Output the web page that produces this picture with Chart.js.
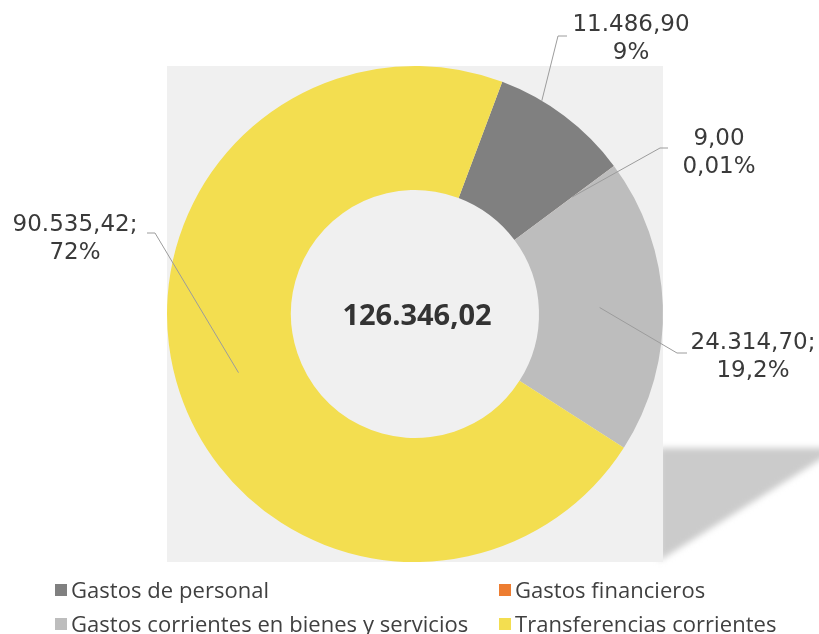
<!DOCTYPE html>
<html>
<head>
<meta charset="utf-8">
<script src="https://cdn.jsdelivr.net/npm/chart.js@4.4.1/dist/chart.umd.min.js"></script>
<style>
  html, body { margin: 0; padding: 0; background: #fff; }
  #wrap { position: relative; width: 819px; height: 634px; }
  #chart { position: absolute; left: 0; top: 0; }
  #legend {
    position: absolute; left: 55px; top: 573px;
    display: grid; grid-template-columns: 444px 300px; row-gap: 3px;
    font-family: "Open Sans", sans-serif; font-size: 22px; color: #404040;
  }
  #legend .item { display: flex; align-items: center; height: 31px; white-space: nowrap; letter-spacing: 0.05px; }
  #legend .box { width: 12px; height: 12px; margin-right: 4px; margin-top: 2px; }
</style>
</head>
<body>
<div id="wrap">
  <canvas id="chart" width="819" height="634"></canvas>
  <div id="legend"></div>
</div>
<script>
// --- data ---
const categories = [
  'Gastos de personal',
  'Gastos financieros',
  'Gastos corrientes en bienes y servicios',
  'Transferencias corrientes'
];
const values = [11486.90, 9.00, 24314.70, 90535.42];
const pctLabels = ['9%', '0,01%', '19,2%', '72%'];
const labelSeparators = ['', '', ';', ';'];
const colors = ['#808080', '#ed7d31', '#bdbdbd', '#f3de50'];

// --- label layout (relative to doughnut centre) ---
// t / s: where the leader starts inside the slice (angle fraction, ring fraction)
const labelLayout = [
  { t: 0.31, s: 1.0, elbow: [143, -278], end: [152, -278], text: [216, -283] },
  { t: 0.5,  s: 0.58, elbow: [245, -166], end: [253, -166], text: [304, -169] },
  { t: 0.5,  s: 0.49, elbow: [262, 39],  end: [272, 39],  text: [338, 35] },
  { t: 0.5,  s: 0.5,  elbow: [-260, -81], end: [-268, -81], text: [-340, -83] }
];

function fmtEs(n) {
  const parts = n.toFixed(2).split('.');
  parts[0] = parts[0].replace(/\B(?=(\d{3})+(?!\d))/g, '.');
  return parts.join(',');
}

const total = values.reduce((a, b) => a + b, 0);

// grey plot square + shadow behind the ring
const backdrop = {
  id: 'backdrop',
  beforeDatasetsDraw(chart) {
    const arc = chart.getDatasetMeta(0).data[0];
    if (!arc) return;
    const { x, y, outerRadius: r } = arc.getProps(['x', 'y', 'outerRadius'], true);
    const ctx = chart.ctx;
    const right = x + r, bottom = y + r;
    ctx.save();
    ctx.filter = 'blur(3px)';
    ctx.fillStyle = '#cbcbcb';
    ctx.beginPath();
    ctx.moveTo(right - 4, y + 134);
    ctx.lineTo(chart.width + 10, y + 134);
    ctx.lineTo(chart.width + 10, y + 140);
    ctx.lineTo(right - 4, bottom - 1);
    ctx.closePath();
    ctx.fill();
    ctx.restore();
    ctx.save();
    ctx.fillStyle = '#f0f0f0';
    ctx.fillRect(x - r, y - r, 2 * r, 2 * r);
    ctx.restore();
  }
};

const sliceLabels = {
  id: 'sliceLabels',
  afterDatasetsDraw(chart) {
    const ctx = chart.ctx;
    const arcs = chart.getDatasetMeta(0).data;
    ctx.save();
    arcs.forEach((arc, i) => {
      const p = arc.getProps(['x', 'y', 'startAngle', 'endAngle', 'innerRadius', 'outerRadius'], true);
      const L = labelLayout[i];
      const a = p.startAngle + L.t * (p.endAngle - p.startAngle);
      const rr = p.innerRadius + L.s * (p.outerRadius - p.innerRadius);
      const sx = p.x + Math.cos(a) * rr, sy = p.y + Math.sin(a) * rr;
      ctx.strokeStyle = '#9c9c9c';
      ctx.lineWidth = 1;
      ctx.beginPath();
      ctx.moveTo(sx, sy);
      ctx.lineTo(p.x + L.elbow[0], p.y + L.elbow[1]);
      ctx.lineTo(p.x + L.end[0], p.y + L.end[1]);
      ctx.stroke();

      ctx.fillStyle = '#3a3a3a';
      ctx.font = '23px "DejaVu Sans", Verdana, sans-serif';
      ctx.textAlign = 'center';
      ctx.textBaseline = 'alphabetic';
      const tx = p.x + L.text[0], ty = p.y + L.text[1];
      ctx.fillText(fmtEs(values[i]) + labelSeparators[i], tx, ty);
      ctx.fillText(pctLabels[i], tx, ty + 28);
    });
    ctx.restore();
  }
};

const centerText = {
  id: 'centerText',
  afterDraw(chart) {
    const arc = chart.getDatasetMeta(0).data[0];
    if (!arc) return;
    const ctx = chart.ctx;
    ctx.save();
    ctx.fillStyle = '#333333';
    ctx.font = 'bold 29px "Open Sans", sans-serif';
    ctx.textAlign = 'center';
    ctx.textBaseline = 'alphabetic';
    ctx.fillText(fmtEs(total), arc.x + 2, arc.y + 11);
    ctx.restore();
  }
};

new Chart(document.getElementById('chart'), {
  type: 'doughnut',
  data: {
    labels: categories,
    datasets: [{
      data: values,
      backgroundColor: colors,
      borderWidth: 0,
      hoverOffset: 0
    }]
  },
  options: {
    responsive: false,
    animation: false,
    events: [],
    cutout: '50%',
    rotation: 20.6,
    layout: { padding: { top: 66, bottom: 72, left: 100, right: 89 } },
    plugins: {
      legend: { display: false },
      tooltip: { enabled: false }
    }
  },
  plugins: [backdrop, sliceLabels, centerText]
});

// legend, two fixed columns like the original
const legendEl = document.getElementById('legend');
[0, 1, 2, 3].forEach(i => {
  const item = document.createElement('div');
  item.className = 'item';
  item.innerHTML = '<span class="box" style="background:' + colors[i] + '"></span>' + categories[i];
  legendEl.appendChild(item);
});
</script>
</body>
</html>
